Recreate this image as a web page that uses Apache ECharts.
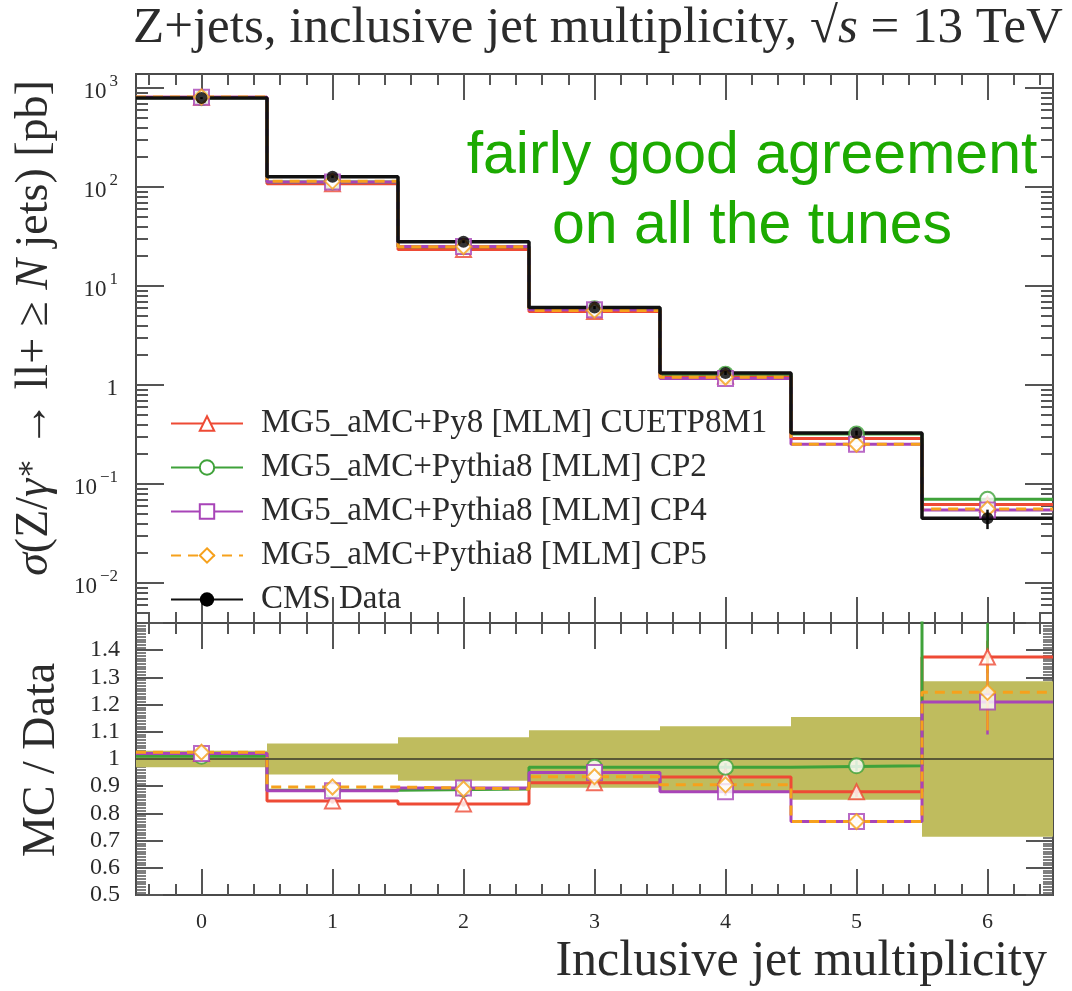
<!DOCTYPE html>
<html><head><meta charset="utf-8">
<script src="https://cdn.jsdelivr.net/npm/echarts@6/dist/echarts.min.js"></script>
<style>html,body{margin:0;padding:0;background:#fff}#c{width:1072px;height:991px}</style>
</head><body><div id="c"></div>
<script>
// ---------- data ----------
const binCenters = [0, 1, 2, 3, 4, 5, 6];
const binEdges = [-0.5, 0.5, 1.5, 2.5, 3.5, 4.5, 5.5, 6.5];
const names = ['MG5_aMC+Py8 [MLM] CUETP8M1', 'MG5_aMC+Pythia8 [MLM] CP2', 'MG5_aMC+Pythia8 [MLM] CP4', 'MG5_aMC+Pythia8 [MLM] CP5'];
const dataName = 'CMS Data';

const dataXsec    = [790, 127, 28.0, 6.05, 1.32, 0.327, 0.045];
const dataXsecErr = [18, 4, 0.9, 0.22, 0.06, 0.018, 0.010];

const mcCUETP8M1 = [806, 107.5, 23.4, 5.52, 1.233, 0.288, 0.0619];
const mcCP2      = [798, 112.4, 24.9, 5.87, 1.28, 0.319, 0.0700];
const mcCP4      = [806, 112.1, 25.0, 5.75, 1.16, 0.252, 0.0545];
const mcCP5      = [810, 113.9, 24.9, 5.66, 1.195, 0.252, 0.0560];

const ratioCUETP8M1 = [1.02, 0.846, 0.835, 0.913, 0.934, 0.88, 1.375];
const ratioCP2      = [1.01, 0.885, 0.89, 0.97, 0.97, 0.975, 1.55];
const ratioCP4      = [1.02, 0.883, 0.893, 0.95, 0.88, 0.77, 1.21];
const ratioCP5      = [1.025, 0.897, 0.89, 0.935, 0.905, 0.77, 1.245];

const ratioErrCUETP8M1 = [0.01, 0.01, 0.01, 0.012, 0.015, 0.02, 0.06];
const ratioErrCP2      = [0.01, 0.01, 0.01, 0.012, 0.015, 0.02, 0.15];
const ratioErrCP4      = [0.01, 0.01, 0.01, 0.012, 0.015, 0.02, 0.12];
const ratioErrCP5      = [0.01, 0.01, 0.01, 0.012, 0.015, 0.02, 0.14];

const bandLow  = [0.97, 0.943, 0.92, 0.894, 0.88, 0.85, 0.714];
const bandHigh = [1.03, 1.057, 1.08, 1.106, 1.12, 1.154, 1.286];

const logMajorTicks = [0.01, 0.1, 1, 10, 100, 1000];
const logMinorMult = [2, 3, 4, 5, 6, 7, 8, 9];
const logDecades = [0.001, 0.01, 0.1, 1, 10, 100, 1000];
const xMinorTicks = [-0.4, -0.2, 0.2, 0.4, 0.6, 0.8, 1.2, 1.4, 1.6, 1.8, 2.2, 2.4, 2.6, 2.8, 3.2, 3.4, 3.6, 3.8, 4.2, 4.4, 4.6, 4.8, 5.2, 5.4, 5.6, 5.8, 6.2, 6.4];
const ratioLabelTicks = [0.5, 0.6, 0.7, 0.8, 0.9, 1, 1.1, 1.2, 1.3, 1.4];

// ---------- styles ----------
const colors = ['#ee4a35', '#3fa23a', '#a844b8', '#f6a11c'];
const symbols = ['emptyTriangle', 'emptyCircle', 'emptyRect', 'emptyDiamond'];
const lineTypes = ['solid', 'solid', 'solid', [10, 7]];
const SERIF = '"Liberation Serif", "DejaVu Serif", serif';
const TXT = '#2b2b2b';
const TICK = '#555';

const logMinorTicks = [];
logDecades.forEach(d => logMinorMult.forEach(m => logMinorTicks.push(+(m * d).toPrecision(3))));

function stepData(vals) {
  return binEdges.map((e, i) => [e, vals[Math.min(i, vals.length - 1)]]);
}

const chart = echarts.init(document.getElementById('c'), null, { renderer: 'canvas' });

const grids = [
  { left: 136, right: 19, top: 74, height: 549, show: true, borderColor: '#4a4a4a', borderWidth: 2, backgroundColor: 'transparent' },
  { left: 136, right: 19, top: 623, height: 272, show: true, borderColor: '#4a4a4a', borderWidth: 2, backgroundColor: 'transparent' }
];

function xAx(g, pos, major) {
  const showLabel = g === 1 && pos === 'bottom' && major;
  return {
    type: 'value', gridIndex: g, position: pos, min: -0.5, max: 6.5,
    axisLine: { show: false, onZero: false },
    axisTick: { show: true, inside: true, length: major ? 26 : 11, customValues: major ? binCenters : xMinorTicks, lineStyle: { color: TICK, width: 2 } },
    axisLabel: { show: showLabel, customValues: binCenters, margin: 16, fontFamily: SERIF, fontSize: 22, color: TXT },
    splitLine: { show: false }, minorTick: { show: false }
  };
}
const xAxes = [];
[0, 1].forEach(g => ['bottom', 'top'].forEach(p => { xAxes.push(xAx(g, p, true)); xAxes.push(xAx(g, p, false)); }));

function yLog(pos, major) {
  return {
    type: 'log', logBase: 10, gridIndex: 0, position: pos, min: 0.00394, max: 1384,
    axisLine: { show: false, onZero: false },
    axisTick: { show: true, inside: true, length: major ? 28 : 12, customValues: major ? logMajorTicks : logMinorTicks, lineStyle: { color: TICK, width: 2 } },
    axisLabel: {
      show: pos === 'left' && major, customValues: logMajorTicks, margin: 18, color: TXT,
      formatter: v => {
        const e = Math.round(Math.log10(v));
        if (e === 0) return '{b|1}';
        return '{b|10}{s|' + (e < 0 ? '\u2212' + (-e) : e) + '}';
      },
      rich: {
        b: { fontFamily: SERIF, fontSize: 23, color: TXT, verticalAlign: 'bottom', lineHeight: 30 },
        s: { fontFamily: SERIF, fontSize: 17, color: TXT, verticalAlign: 'top', lineHeight: 16, padding: [0, 0, 0, 3] }
      }
    },
    splitLine: { show: false }
  };
}
function yRatio(pos) {
  return {
    type: 'value', gridIndex: 1, position: pos, min: 0.5, max: 1.5, interval: 0.1,
    axisLine: { show: false, onZero: false },
    axisTick: { show: true, inside: true, length: 27, lineStyle: { color: TICK, width: 2 } },
    minorTick: { show: true, splitNumber: 10, length: 10, lineStyle: { color: TICK, width: 1.5 } },
    axisLabel: {
      show: pos === 'left', customValues: ratioLabelTicks, margin: 16, fontFamily: SERIF, fontSize: 24, color: TXT,
      formatter: v => (Math.abs(v - 1) < 1e-6 ? '1' : (+v).toFixed(1))
    },
    splitLine: { show: false }
  };
}
const yAxes = [yLog('left', true), yLog('left', false), yLog('right', true), yLog('right', false), yRatio('left'), yRatio('right')];

const series = [];
const mcTop = [mcCUETP8M1, mcCP2, mcCP4, mcCP5];
const mcRatio = [ratioCUETP8M1, ratioCP2, ratioCP4, ratioCP5];
const mcRatioErr = [ratioErrCUETP8M1, ratioErrCP2, ratioErrCP4, ratioErrCP5];

series.push({
  type: 'custom', name: 'band', xAxisIndex: 4, yAxisIndex: 4, clip: true, silent: true, z: 1,
  data: binCenters.map((c, i) => [binEdges[i], binEdges[i + 1], bandLow[i], bandHigh[i]]),
  encode: { x: [0, 1], y: [2, 3] },
  renderItem: (params, api) => {
    const p1 = api.coord([api.value(0), api.value(3)]);
    const p2 = api.coord([api.value(1), api.value(2)]);
    return { type: 'rect', shape: { x: p1[0], y: p1[1], width: p2[0] - p1[0], height: p2[1] - p1[1] }, style: { fill: '#bfbc5e' } };
  },
  markLine: { silent: true, symbol: ['none', 'none'], label: { show: false }, lineStyle: { color: '#5a5a36', width: 2, type: 'solid' }, data: [{ yAxis: 1 }] }
});

function errSeries(name, xi, yi, vals, errs, color, width, z) {
  return {
    type: 'custom', name: name, xAxisIndex: xi, yAxisIndex: yi, clip: true, silent: true, z: z,
    data: binCenters.map((c, i) => [c, vals[i], vals[i] - errs[i], vals[i] + errs[i]]),
    encode: { x: 0, y: [2, 3] },
    renderItem: (params, api) => {
      const a = api.coord([api.value(0), api.value(2)]);
      const b = api.coord([api.value(0), api.value(3)]);
      return { type: 'line', shape: { x1: a[0], y1: a[1], x2: b[0], y2: b[1] }, style: { stroke: color, lineWidth: width } };
    }
  };
}

for (let k = 0; k < 4; k++) {
  series.push({
    type: 'line', name: names[k], xAxisIndex: 0, yAxisIndex: 0, step: 'end', showSymbol: false, symbol: symbols[k], symbolSize: 14,
    itemStyle: { color: colors[k] }, lineStyle: { color: colors[k], width: 3, type: lineTypes[k] }, z: 3,
    data: stepData(mcTop[k])
  });
  series.push({
    type: 'line', name: names[k], xAxisIndex: 4, yAxisIndex: 4, step: 'end', showSymbol: false, symbol: symbols[k], symbolSize: 14,
    itemStyle: { color: colors[k] }, lineStyle: { color: colors[k], width: 3, type: lineTypes[k] }, z: 3,
    data: stepData(mcRatio[k])
  });
}
series.push({
  type: 'line', name: dataName, xAxisIndex: 0, yAxisIndex: 0, step: 'end', showSymbol: false, symbol: 'circle', symbolSize: 12,
  itemStyle: { color: '#000' }, lineStyle: { color: '#111', width: 3.5 }, z: 4,
  data: stepData(dataXsec)
});
for (let k = 0; k < 4; k++) {
  series.push(errSeries('e' + k, 4, 4, mcRatio[k], mcRatioErr[k], colors[k], 2.5, 4));
  series.push({
    type: 'scatter', name: names[k], xAxisIndex: 0, yAxisIndex: 0, symbol: symbols[k], symbolSize: 15, z: 4,
    itemStyle: { color: colors[k], borderWidth: 2 }, data: binCenters.map((c, i) => [c, mcTop[k][i]])
  });
  series.push({
    type: 'scatter', name: names[k], xAxisIndex: 4, yAxisIndex: 4, symbol: symbols[k], symbolSize: 15, z: 5,
    itemStyle: { color: colors[k], borderWidth: 2 }, data: binCenters.map((c, i) => [c, mcRatio[k][i]])
  });
}
series.push(errSeries('de', 0, 0, dataXsec, dataXsecErr, '#111', 2.5, 6));
series.push({
  type: 'scatter', name: dataName, xAxisIndex: 0, yAxisIndex: 0, symbol: 'circle', symbolSize: 12, z: 6,
  itemStyle: { color: '#000' }, data: binCenters.map((c, i) => [c, dataXsec[i]])
});

const option = {
  animation: false,
  backgroundColor: '#fff',
  grid: grids,
  xAxis: xAxes,
  yAxis: yAxes,
  legend: {
    data: names.concat([dataName]), orient: 'vertical', left: 165, top: 402,
    itemWidth: 72, itemHeight: 18, itemGap: 11, selectedMode: false,
    textStyle: { fontFamily: SERIF, fontSize: 33, color: TXT, lineHeight: 30, padding: [0, 0, 0, 13] }
  },
  graphic: [
    { type: 'text', x: 133, y: 29, style: { text: 'Z+jets, inclusive jet multiplicity, {r|\u221A}{i|s} = 13 TeV', font: '51px ' + SERIF, fill: TXT, textAlign: 'left', textVerticalAlign: 'middle',
        rich: { r: { fontFamily: SERIF, fontSize: 51, fill: TXT }, i: { fontFamily: SERIF, fontSize: 51, fontStyle: 'italic', fill: TXT } } } },
    { type: 'text', x: 752, y: 157, style: { text: 'fairly good agreement', font: '59px "Liberation Sans", Arial, sans-serif', fill: '#1caa00', textAlign: 'center', textVerticalAlign: 'middle' } },
    { type: 'text', x: 752, y: 227, style: { text: 'on all the tunes', font: '59px "Liberation Sans", Arial, sans-serif', fill: '#1caa00', textAlign: 'center', textVerticalAlign: 'middle' } },
    { type: 'text', x: 1047, y: 962, style: { text: 'Inclusive jet multiplicity', font: '50px ' + SERIF, fill: TXT, textAlign: 'right', textVerticalAlign: 'middle' } },
    { type: 'text', x: 35, y: 328, rotation: Math.PI / 2, style: {
        text: '{i|\u03C3}(Z/{i|\u03B3}{s|\u2217} \u2192 ll+ \u2265 {i|N} jets) [pb]', font: '46px ' + SERIF, fill: TXT, textAlign: 'center', textVerticalAlign: 'middle',
        rich: { i: { fontFamily: SERIF, fontSize: 46, fontStyle: 'italic', fill: TXT }, s: { fontFamily: SERIF, fontSize: 30, fill: TXT, verticalAlign: 'top' } } } },
    { type: 'text', x: 42, y: 760, rotation: Math.PI / 2, style: { text: 'MC / Data', font: '46px ' + SERIF, fill: TXT, textAlign: 'center', textVerticalAlign: 'middle' } }
  ],
  series: series
};
chart.setOption(option);
</script></body></html>
